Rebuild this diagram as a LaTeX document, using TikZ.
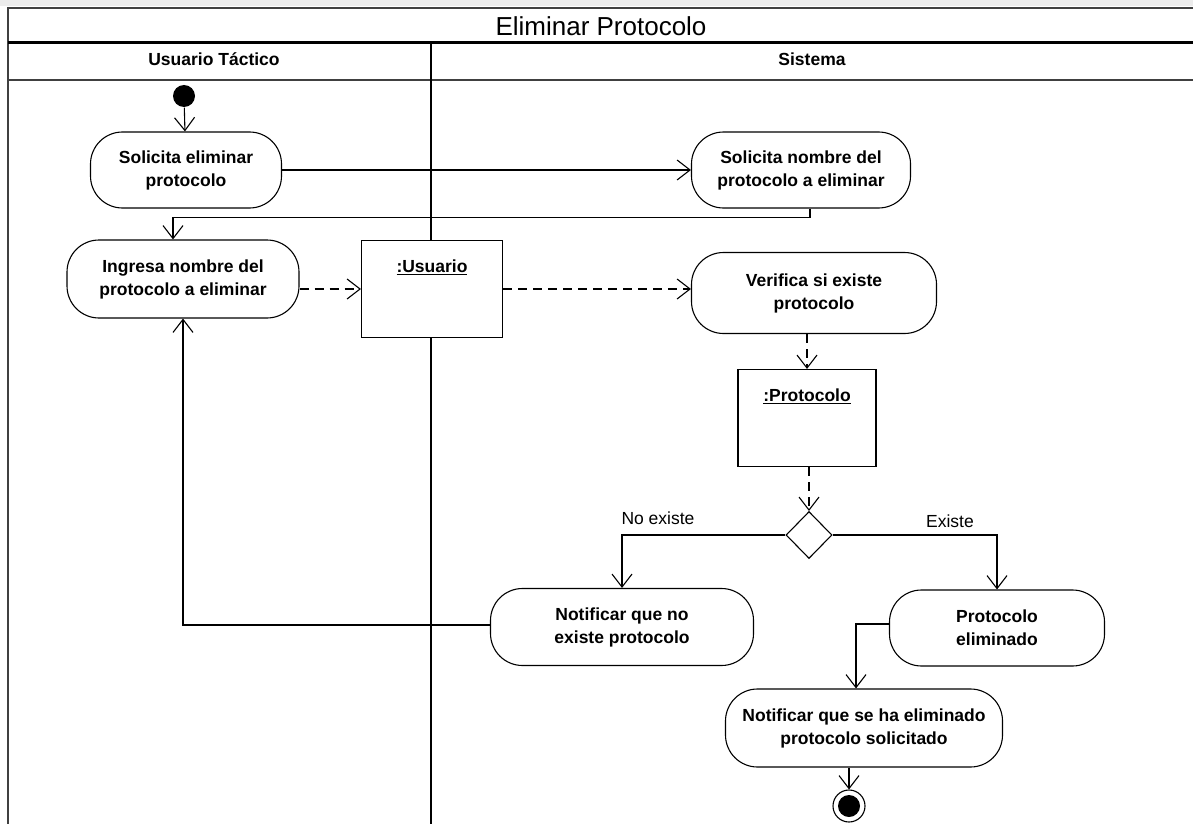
\documentclass[tikz,border=0pt]{standalone}
\usepackage{fontspec}
\setmainfont{Liberation Sans}
\usetikzlibrary{shapes.geometric,arrows.meta,calc}

\begin{document}
\begin{tikzpicture}[x=1pt, y=-1pt, line width=1.1pt,
  activity/.style={draw, fill=white, rounded corners=32pt, align=center, inner sep=2pt, font=\fontsize{17.5}{23}\selectfont\bfseries},
  objbox/.style={draw, fill=white, minimum width=141pt, minimum height=97pt},
  objlabel/.style={anchor=north, inner sep=0pt, yshift=-19pt, font=\fontsize{17.5}{20}\selectfont\bfseries},
  decision/.style={draw, fill=white, diamond, minimum width=46pt, minimum height=47pt, inner sep=0pt},
  flow/.style={-{Straight Barb[length=13pt, width=20pt]}},
  objflow/.style={flow, dash pattern=on 9pt off 6pt}]
        \useasboundingbox (0,0) rectangle (1193,824);
        \fill[gray!15] (0,0) rectangle (1193,6);

        \draw[line width=1.6pt, black!75] (1193,8) -- (8,8) -- (8,824);
        \draw[line width=3pt] (8,43) -- (1193,43);
        \draw[line width=1.6pt, black!75] (8,80) -- (1193,80);
        \draw (431,43) -- (431,824);

        \node[font=\fontsize{26}{30}\selectfont] (titulo) at (601,26) {Eliminar Protocolo};
        \node[font=\fontsize{17.5}{20}\selectfont\bfseries] (usuario) at (214,59) {Usuario Táctico};
        \node[font=\fontsize{17.5}{20}\selectfont\bfseries] (sistema) at (812,59) {Sistema};

        \node[circle, fill=black, minimum size=22pt, inner sep=0pt] (inicio) at (184,96) {};
        \node[activity, minimum width=191pt, minimum height=76pt] (solelim) at (186,170) {Solicita eliminar\\protocolo};
        \node[activity, minimum width=219pt, minimum height=76pt] (solnom) at (801,170) {Solicita nombre del\\protocolo a eliminar};
        \node[activity, minimum width=232pt, minimum height=78pt] (ingnom) at (183,279) {Ingresa nombre del\\protocolo a eliminar};
        \node[objbox, label={[objlabel]north:\underline{:Usuario}}] (objusu) at (432,289) {};
        \node[activity, minimum width=245pt, minimum height=81pt] (verif) at (814,293) {Verifica si existe\\protocolo};
        \node[objbox, minimum width=138pt, label={[objlabel]north:\underline{:Protocolo}}] (objprot) at (807,418) {};
        \node[decision] (existe) at (809,535) {};
        \node[font=\fontsize{17.5}{20}\selectfont] (lblno) at (658,518) {No existe};
        \node[font=\fontsize{17.5}{20}\selectfont] (lblsi) at (950,521) {Existe};
        \node[activity, minimum width=263pt, minimum height=77pt] (notino) at (622,627) {Notificar que no\\existe protocolo};
        \node[activity, minimum width=215pt, minimum height=76pt] (eliminado) at (997,628) {Protocolo\\eliminado};
        \node[activity, minimum width=277pt, minimum height=78pt] (notiok) at (864,728) {Notificar que se ha eliminado\\protocolo solicitado};
        \node[draw, circle, minimum size=32pt, inner sep=0pt, path picture={\fill[black] (path picture bounding box.center) circle (11pt);}] (fin) at (849,806) {};

        \draw[flow] (inicio) -- (solelim);
        \draw[flow] (solelim) -- (solnom);
        \draw[flow] ([xshift=9pt]solnom.south) -- ++(0,9) -| ([xshift=-10pt]ingnom.north);
        \draw[objflow] (ingnom.east |- objusu.west) -- (objusu.west);
        \draw[objflow] (objusu.east) -- (verif.west |- objusu.east);
        \draw[objflow] (objprot.north |- verif.south) -- (objprot.north);
        \draw[objflow] (existe.north |- objprot.south) -- (existe.north);
        \draw[flow] (existe.west) -| (notino.north);
        \draw[flow] (existe.east) -| (eliminado.north);
        \draw[flow] (notino.west |- 0,625) -| (ingnom.south);
        \draw[flow] (eliminado.west |- 0,624) -| ([xshift=-8pt]notiok.north);
        \draw[flow] (notiok.south -| fin.north) -- (fin.north);
    \end{tikzpicture}
\end{document}
